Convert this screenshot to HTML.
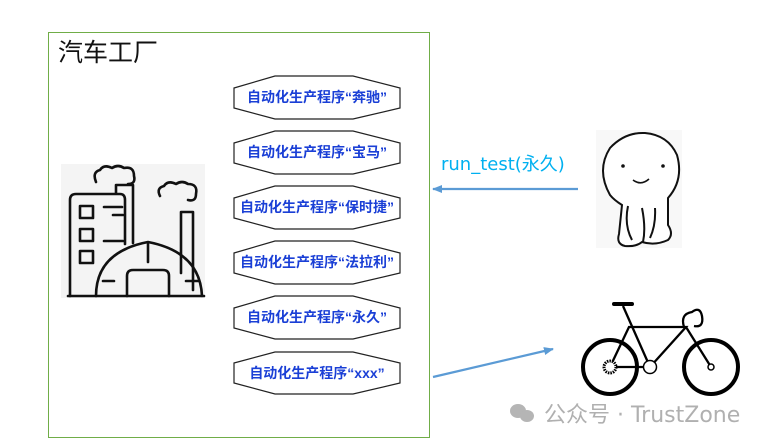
<!DOCTYPE html>
<html><head><meta charset="utf-8"><style>
body{margin:0;width:765px;height:445px;background:#fff;overflow:hidden;font-family:"Liberation Sans","Noto Sans CJK SC",sans-serif}
</style></head><body>
<svg width="765" height="445" viewBox="0 0 765 445" xmlns="http://www.w3.org/2000/svg" style="position:absolute;left:0;top:0">
<defs>
<marker id="ah" markerWidth="10" markerHeight="8" refX="9" refY="4" orient="auto" markerUnits="userSpaceOnUse"><path d="M0,0 L10,4 L0,8 Z" fill="#5b9bd5"/></marker>
</defs>
<rect x="48.5" y="32.5" width="381" height="405" fill="#fff" stroke="#70ad47" stroke-width="1"/>
<text x="58" y="61" font-size="25" font-family="Noto Sans CJK SC,sans-serif" fill="#111">汽车工厂</text>

<g fill="#fff" stroke="#222" stroke-width="1.2">
<polygon points="234,88 275,76 353,76 400,88 400,108 353,119 275,119 234,108"/>
<polygon points="234,143 275,131 353,131 400,143 400,163 353,174 275,174 234,163"/>
<polygon points="234,198 275,186 353,186 400,198 400,218 353,229 275,229 234,218"/>
<polygon points="234,253 275,241 353,241 400,253 400,273 353,284 275,284 234,273"/>
<polygon points="234,308 275,296 353,296 400,308 400,328 353,339 275,339 234,328"/>
<polygon points="234,363 275,352 353,352 400,363 400,383 353,394 275,394 234,383"/>
</g>
<g font-size="14" font-weight="bold" fill="#1a3fd6" text-anchor="middle" font-family="Liberation Sans,Noto Sans CJK SC,sans-serif">
<text x="317" y="102">自动化生产程序“奔驰”</text>
<text x="317" y="157">自动化生产程序“宝马”</text>
<text x="317" y="212">自动化生产程序“保时捷”</text>
<text x="317" y="267">自动化生产程序“法拉利”</text>
<text x="317" y="322">自动化生产程序“永久”</text>
<text x="317" y="378">自动化生产程序“xxx”</text>
</g>

<!-- factory -->
<rect x="61" y="164" width="144" height="134" fill="#f4f4f4"/>
<g fill="none" stroke="#111" stroke-width="2.6" stroke-linecap="round" stroke-linejoin="round">
<path d="M70,296 V200 Q70,194 76,194 H120 Q125,194 125,200 V244"/>
<rect x="80" y="206" width="13" height="12"/><rect x="80" y="229" width="13" height="12"/><rect x="80" y="251" width="13" height="12"/>
<path d="M104,207 H122 M113,215 H123 M104,241 H123"/>
<path d="M116,193 V185 H133 V243"/>
<path d="M96,182 Q92,172 100,170 Q104,164 112,168 Q118,164 124,168 Q134,166 134,176 Q136,184 128,184"/>
<path d="M181,273 V212 H193 V290"/>
<path d="M160,196 Q156,188 164,186 Q168,180 176,184 Q182,180 188,184 Q198,184 196,194 Q196,202 188,200"/>
<path d="M96,296 Q96,252 148,242 Q200,252 202,296"/>
<path d="M148,244 V262"/>
<path d="M127,296 V276 Q127,270 133,270 H163 Q169,270 169,276 V296"/>
<path d="M103,281 H114 M186,281 H198"/>
<path d="M68,296 H204"/>
</g>

<!-- arrows -->
<line x1="578" y1="189" x2="433" y2="189" stroke="#5b9bd5" stroke-width="2.2" marker-end="url(#ah)"/>
<text x="441" y="170" font-size="18" fill="#00b0f0" font-family="DejaVu Sans,Noto Sans CJK SC,sans-serif">run_test(永久)</text>
<line x1="433" y1="377" x2="553" y2="349" stroke="#5b9bd5" stroke-width="2.2" marker-end="url(#ah)"/>

<!-- character -->
<rect x="596" y="130" width="86" height="118" fill="#f8f8f8"/>
<g fill="#fff" stroke="#111" stroke-width="2">
<path d="M610,195 Q596,170 610,148 Q625,132 645,133 Q668,135 677,155 Q684,180 668,198 L668,225 Q674,234 668,240 Q655,246 642,242 Q636,247 625,246 Q616,244 619,234 L622,205 Q614,200 610,195 Z"/>
<path d="M628,206 Q624,225 632,240 M642,208 Q646,228 643,242 M655,208 Q656,225 650,238"/>
</g>
<circle cx="623" cy="166" r="1.8" fill="#111"/><circle cx="663" cy="166" r="1.8" fill="#111"/>
<path d="M633,180 Q641,186 649,179" fill="none" stroke="#111" stroke-width="1.6"/>

<!-- bicycle -->
<g fill="none" stroke="#000">
<circle cx="610" cy="367" r="27" stroke-width="4"/>
<circle cx="711" cy="367" r="27" stroke-width="4"/>
<path d="M610,367 L650,367 L686,327 L629,327 Z" stroke-width="2.3"/>
<path d="M650,367 L623,306 M686,327 L711,367" stroke-width="2.3"/>
<path d="M614,304 H632" stroke-width="4" stroke-linecap="round"/>
<path d="M684,327 Q680,314 692,312 Q700,306 702,316 Q704,328 694,326" stroke-width="2.3"/>
</g>
<circle cx="650" cy="367" r="6.5" fill="#fff" stroke="#000" stroke-width="1.5"/>
<circle cx="610" cy="367" r="6" fill="#fff" stroke="#000" stroke-width="3" stroke-dasharray="1.5 1"/>
<circle cx="711" cy="367" r="3" fill="#fff" stroke="#000" stroke-width="1.5"/>

<!-- watermark -->
<g fill="#b5b5b5">
<ellipse cx="518" cy="411" rx="8" ry="7"/><ellipse cx="527" cy="416" rx="7" ry="6"/>
</g>
<text x="544" y="422" font-size="22" fill="#b0b0b0" font-family="DejaVu Sans,Noto Sans CJK SC,sans-serif">公众号 · TrustZone</text>
</svg>
</body></html>
